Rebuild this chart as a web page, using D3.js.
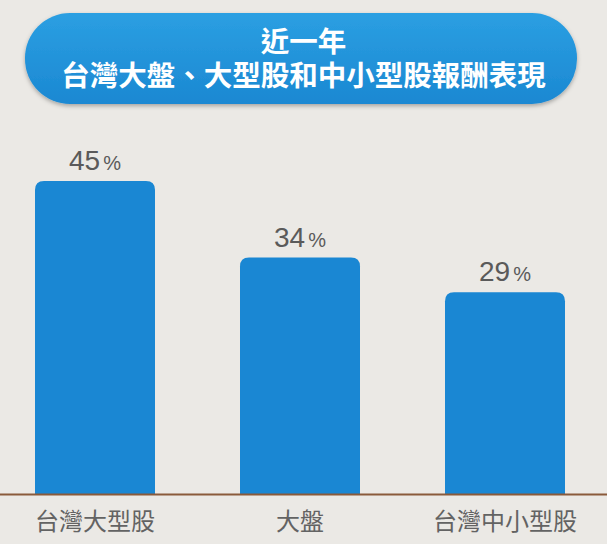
<!DOCTYPE html>
<html>
<head>
<meta charset="utf-8">
<script src="https://cdn.jsdelivr.net/npm/d3@7"></script>
<style>
  body { margin: 0; background: #ebe9e5; }
  svg { display: block; }
  .title-box {
    width: 100%;
    text-align: center;
    color: #fff;
    font-family: 'Noto Sans CJK TC', sans-serif;
    font-weight: bold;
    font-size: 28.5px;
    line-height: 34px;
    white-space: nowrap;
  }
</style>
</head>
<body>
<div id="chart"></div>
<script>
// chart data
var categories = ["台灣大型股", "大盤", "台灣中小型股"];
var returns = [45, 34, 29];
var titleLines = ["近一年", "台灣大盤、大型股和中小型股報酬表現"];

var svgWidth = 607;
var svgHeight = 544;

var svg = d3.select("#chart")
    .append("svg")
    .attr("width", svgWidth)
    .attr("height", svgHeight);

var defs = svg.append("defs");

// gradient for the title pill
var grad = defs.append("linearGradient")
    .attr("id", "pillGrad")
    .attr("x1", 0).attr("y1", 0).attr("x2", 0).attr("y2", 1);
grad.append("stop").attr("offset", "0%").attr("stop-color", "#2b9fe2");
grad.append("stop").attr("offset", "100%").attr("stop-color", "#1b88d2");

var shadow = defs.append("filter").attr("id", "pillShadow")
    .attr("x", "-10%").attr("y", "-20%").attr("width", "120%").attr("height", "150%");
shadow.append("feDropShadow")
    .attr("dx", 0).attr("dy", 2).attr("stdDeviation", 2)
    .attr("flood-color", "#000").attr("flood-opacity", 0.3);

// title pill
svg.append("rect")
    .attr("x", 25)
    .attr("y", 13)
    .attr("width", 552)
    .attr("height", 91)
    .attr("rx", 45)
    .attr("fill", "url(#pillGrad)")
    .attr("filter", "url(#pillShadow)");

// two-line title as one wrapped block
svg.append("foreignObject")
    .attr("x", 0)
    .attr("y", 23)
    .attr("width", svgWidth)
    .attr("height", 70)
    .append("xhtml:div")
    .attr("class", "title-box")
    .html(titleLines.join("<br>"));

// chart area
var baseY = 494;

// step 205, bar width 120, first bar starts at 35
var xScale = d3.scaleBand()
    .domain(categories)
    .range([0, 600])
    .paddingInner(85 / 205)
    .paddingOuter(35 / 205);

var yScale = d3.scaleLinear()
    .domain([0, 45])
    .range([baseY, 181]);

var data = categories.map((c, i) => ({ cat: c, val: returns[i] }));

// bars with rounded top corners
var r = 9;
svg.selectAll(".bar")
    .data(data)
    .enter()
    .append("path")
    .attr("class", "bar")
    .attr("fill", "#1a87d3")
    .attr("d", function(d) {
        var x0 = xScale(d.cat), w = xScale.bandwidth();
        var y0 = yScale(d.val), y1 = yScale(0);
        return `M${x0},${y1}V${y0 + r}Q${x0},${y0} ${x0 + r},${y0}H${x0 + w - r}Q${x0 + w},${y0} ${x0 + w},${y0 + r}V${y1}Z`;
    });

// value labels
var labels = svg.selectAll(".val")
    .data(data)
    .enter()
    .append("text")
    .attr("class", "val")
    .attr("x", d => xScale(d.cat) + xScale.bandwidth() / 2)
    .attr("y", d => yScale(d.val) - 11)
    .attr("text-anchor", "middle")
    .attr("fill", "#5a5a5a")
    .attr("font-family", "'Liberation Sans', Arial, sans-serif");
labels.append("tspan").attr("font-size", "28px").text(d => d.val);
labels.append("tspan").attr("font-size", "20px").attr("dx", 3).text("%");

// x axis
var xAxis = d3.axisBottom(xScale).tickSize(0).tickPadding(19);
var axisG = svg.append("g")
    .attr("transform", `translate(0, ${baseY})`)
    .call(xAxis);
axisG.select(".domain").remove();
svg.append("line")
    .attr("x1", 0).attr("x2", svgWidth)
    .attr("y1", baseY + 0.5).attr("y2", baseY + 0.5)
    .attr("stroke", "#8a5a3a")
    .attr("stroke-width", 2);
axisG.selectAll("text")
    .attr("font-family", "'Noto Sans CJK TC', sans-serif")
    .attr("font-size", "24px")
    .attr("fill", "#636363");
</script>
</body>
</html>
